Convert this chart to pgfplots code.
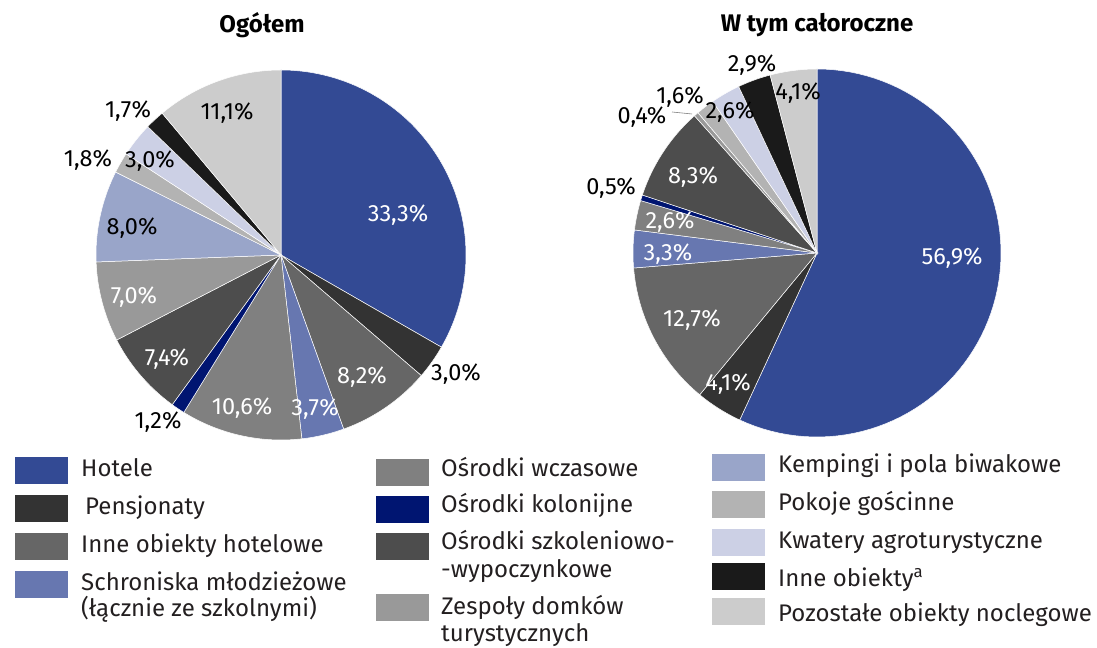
\documentclass[border=0pt]{standalone}
\usepackage{fontspec}
\setmainfont{Fira Sans}
\usepackage{pgfplots}
\pgfplotsset{compat=1.18}
\definecolor{cHot}{HTML}{334A94}
\definecolor{cPen}{HTML}{333333}
\definecolor{cInh}{HTML}{666666}
\definecolor{cSch}{HTML}{6777B0}
\definecolor{cWcz}{HTML}{808080}
\definecolor{cKol}{HTML}{001571}
\definecolor{cSzk}{HTML}{4D4D4D}
\definecolor{cZes}{HTML}{999999}
\definecolor{cKem}{HTML}{99A5C9}
\definecolor{cPok}{HTML}{B3B3B3}
\definecolor{cKwa}{HTML}{CCD0E5}
\definecolor{cIob}{HTML}{1A1A1A}
\definecolor{cPoz}{HTML}{CCCCCC}
\definecolor{txt}{HTML}{231F20}
% cx, cy, r, cumulative start (%), share (%), colour
\newcommand{\slice}[6]{%
\addplot[fill=#6, draw=white, line width=0.5pt, domain=90-3.6*(#4+#5):90-3.6*#4, samples=80, variable=\t]
 ({#1+#3*cos(\t)}, {#2+#3*sin(\t)}) -- (axis cs:#1,#2) -- cycle;
}
\newcommand{\lab}[4]{\node[font=\fontsize{23.5}{28}\selectfont, text=#1, inner sep=0pt] at (axis cs:#2,#3) {#4};}
\newcommand{\leg}[3]{% x, ytop, colour
\fill[#3] (axis cs:#1,#2) rectangle (axis cs:#1+53,#2-27);}
\newcommand{\legt}[3]{\node[font=\fontsize{24}{28}\selectfont, text=txt, anchor=base west, inner sep=0pt] at (axis cs:#1,#2) {#3};}
\begin{document}
\begin{tikzpicture}
\begin{axis}[width=1097pt, height=646pt, scale only axis, xmin=0, xmax=1097, ymin=0, ymax=646,
  hide axis, clip=false]
\path (axis cs:0,0) rectangle (axis cs:1097,646);
% ---- Ogółem ----
\slice{281}{391}{185}{0}{33.3}{cHot}
\slice{281}{391}{185}{33.3}{3.0}{cPen}
\slice{281}{391}{185}{36.3}{8.2}{cInh}
\slice{281}{391}{185}{44.5}{3.7}{cSch}
\slice{281}{391}{185}{48.2}{10.6}{cWcz}
\slice{281}{391}{185}{58.8}{1.2}{cKol}
\slice{281}{391}{185}{60.0}{7.4}{cSzk}
\slice{281}{391}{185}{67.4}{7.0}{cZes}
\slice{281}{391}{185}{74.4}{8.0}{cKem}
\slice{281}{391}{185}{82.4}{1.8}{cPok}
\slice{281}{391}{185}{84.2}{3.0}{cKwa}
\slice{281}{391}{185}{87.2}{1.7}{cIob}
\slice{281}{391}{185}{88.9}{11.1}{cPoz}
% ---- W tym całoroczne ----
\slice{817}{393}{184}{0}{56.9}{cHot}
\slice{817}{393}{184}{56.9}{4.1}{cPen}
\slice{817}{393}{184}{61.0}{12.7}{cInh}
\slice{817}{393}{184}{73.7}{3.3}{cSch}
\slice{817}{393}{184}{77.0}{2.6}{cWcz}
\slice{817}{393}{184}{79.6}{0.5}{cKol}
\slice{817}{393}{184}{80.1}{8.3}{cSzk}
\slice{817}{393}{184}{88.4}{0.4}{cZes}
\slice{817}{393}{184}{88.8}{1.6}{cPok}
\slice{817}{393}{184}{90.4}{2.6}{cKwa}
\slice{817}{393}{184}{93.0}{2.9}{cIob}
\slice{817}{393}{184}{95.9}{4.1}{cPoz}
% titles
\node[font=\fontsize{24}{28}\selectfont\bfseries, text=black] at (axis cs:262,621) {Ogółem};
\node[font=\fontsize{24}{28}\selectfont\bfseries, text=black] at (axis cs:817,621) {W tym całoroczne};
% labels left
\lab{white}{398}{431}{33,3\%}
\lab{black}{456}{272}{3,0\%}
\lab{white}{362}{269}{8,2\%}
\lab{white}{315}{237}{3,7\%}
\lab{white}{242}{238}{10,6\%}
\lab{black}{158}{224}{1,2\%}
\lab{white}{167}{287}{7,4\%}
\lab{white}{134}{349}{7,0\%}
\lab{black}{132}{418}{8,0\%}
\lab{black}{88}{486}{1,8\%}
\lab{black}{150}{485}{3,0\%}
\lab{black}{128}{535}{1,7\%}
\lab{black}{227}{533}{11,1\%}
% labels right
\lab{white}{952}{388}{56,9\%}
\lab{white}{728}{262}{4,1\%}
\lab{white}{692}{326}{12,7\%}
\lab{white}{668}{392}{3,3\%}
\lab{white}{670}{424}{2,6\%}
\lab{black}{611}{458}{0,5\%}
\lab{white}{693}{469}{8,3\%}
\lab{black}{642}{529}{0,4\%}
\lab{black}{680}{549}{1,6\%}
\lab{black}{730}{534}{2,6\%}
\lab{black}{752}{581}{2,9\%}
\lab{black}{798}{553}{4,1\%}
\draw[gray, line width=0.6pt] (axis cs:672,534) -- (axis cs:692,532);
% legend column 1
\leg{15}{189}{cHot}
\leg{15}{151}{cPen}
\leg{15}{113}{cInh}
\leg{15}{75}{cSch}
\legt{81}{169}{Hotele}
\legt{85}{131}{Pensjonaty}
\legt{81}{93}{Inne obiekty hotelowe}
\legt{81}{55}{Schroniska młodzieżowe}
\legt{81}{29}{(łącznie ze szkolnymi)}
% legend column 2
\leg{376}{187}{cWcz}
\leg{376}{150}{cKol}
\leg{376}{113}{cSzk}
\leg{376}{52}{cZes}
\legt{441}{169}{Ośrodki wczasowe}
\legt{441}{133}{Ośrodki kolonijne}
\legt{441}{96}{Ośrodki szkoleniowo-}
\legt{441}{68}{-wypoczynkowe}
\legt{441}{31}{Zespoły domków}
\legt{441}{4}{turystycznych}
% legend column 3
\leg{712}{192}{cKem}
\leg{712}{155}{cPok}
\leg{712}{117}{cKwa}
\leg{712}{83}{cIob}
\leg{712}{48}{cPoz}
\legt{778}{173}{Kempingi i pola biwakowe}
\legt{778}{135}{Pokoje gościnne}
\legt{778}{97}{Kwatery agroturystyczne}
\legt{778}{59}{Inne obiekty\textsuperscript{a}}
\legt{778}{24}{Pozostałe obiekty noclegowe}
\end{axis}
\end{tikzpicture}
\end{document}
